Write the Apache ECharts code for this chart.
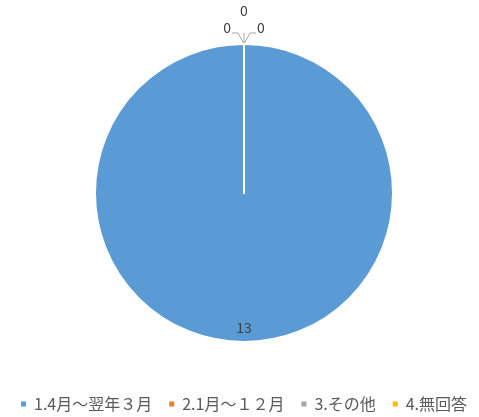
<!DOCTYPE html>
<html><head><meta charset="utf-8">
<script src="https://cdn.jsdelivr.net/npm/echarts@6/dist/echarts.min.js"></script>
<style>html,body{margin:0;padding:0;background:#fff}#c{width:479px;height:417px}</style>
</head><body><div id="c"></div>
<script>
var categories = ['1.4月～翌年３月', '2.1月～１２月', '3.その他', '4.無回答'];
var values = [13, 0, 0, 0];
var colors = ['#5B9BD5', '#ED7D31', '#A5A5A5', '#FFC000'];

var chart = echarts.init(document.getElementById('c'));
var font = '"Noto Sans CJK JP", "Noto Sans", sans-serif';
var data = categories.map(function (n, i) {
  var d = { name: n, value: values[i], itemStyle: { color: colors[i] } };
  if (values[i] > 0) {
    d.label = { position: 'inside', offset: [0, 57] };
    d.labelLine = { show: false };
  } else {
    d.label = { position: 'outside' };
  }
  return d;
});
chart.setOption({
  animation: false,
  color: colors,
  legend: {
    bottom: 0, left: 14, width: 465, padding: [5, 0, 5, 5],
    icon: 'rect', itemWidth: 7, itemHeight: 7, itemGap: 15,
    textStyle: { fontFamily: font, fontSize: 16, color: '#595959', padding: [0, 0, 0, 2] },
    data: categories
  },
  series: [{
    type: 'pie',
    center: [244, 193],
    radius: [0, 149],
    startAngle: 90,
    clockwise: true,
    avoidLabelOverlap: false,
    itemStyle: { borderColor: '#fff', borderWidth: 2 },
    label: { show: true, formatter: '{c}', fontFamily: font, fontSize: 14, color: '#404040' },
    labelLine: { show: true, length: 8, length2: 8, lineStyle: { color: '#A6A6A6', width: 1 } },
    labelLayout: function (p) {
      if (p.dataIndex === 0) return {};
      var pts = p.labelLinePoints;
      if (!pts) return {};
      var a = pts[0];
      if (p.dataIndex === 1) {
        return { x: a[0] - 13, y: a[1] - 16, align: 'right', verticalAlign: 'middle',
          labelLinePoints: [[a[0], a[1]], [a[0] - 6, a[1] - 11], [a[0] - 12, a[1] - 11]] };
      } else if (p.dataIndex === 2) {
        return { x: a[0], y: a[1] - 26, align: 'center', verticalAlign: 'bottom',
          labelLinePoints: [[a[0], a[1]], [a[0], a[1] - 6], [a[0], a[1] - 11]] };
      } else {
        return { x: a[0] + 13, y: a[1] - 16, align: 'left', verticalAlign: 'middle',
          labelLinePoints: [[a[0], a[1]], [a[0] + 6, a[1] - 11], [a[0] + 12, a[1] - 11]] };
      }
    },
    data: data
  }]
});
</script></body></html>
